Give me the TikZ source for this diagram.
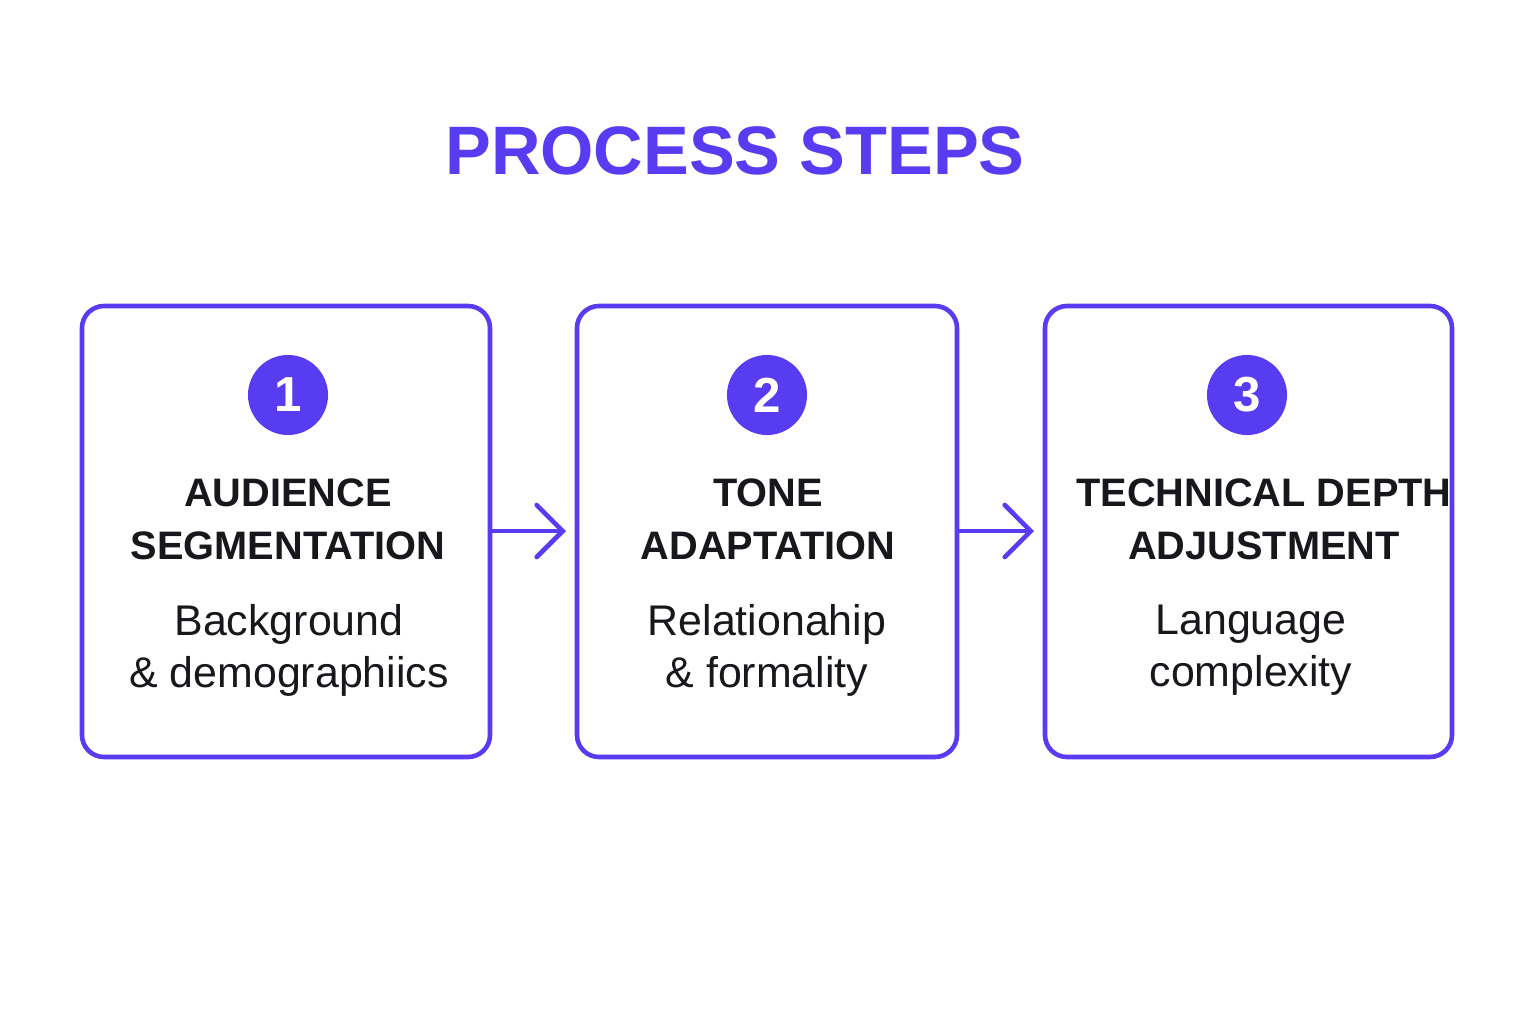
\documentclass[tikz,border=0pt]{standalone}
\usepackage{fontspec}
\setmainfont{Liberation Sans}
\usetikzlibrary{arrows.meta}
\definecolor{brand}{RGB}{88,60,242}
\definecolor{ink}{RGB}{24,24,28}
\tikzset{
  stepbox/.style={draw=brand, line width=0.046cm, rounded corners=0.22cm, fill=white},
  badge/.style={circle, fill=brand, minimum size=0.80cm, inner sep=0pt, text=white, font=\bfseries\fontsize{14}{16}\selectfont},
  head/.style={align=center, text=ink, font=\bfseries\fontsize{11.3}{15}\selectfont, inner sep=0pt},
  body/.style={align=center, text=ink, font=\fontsize{12.2}{14.8}\selectfont, inner sep=0pt},
  arr/.style={draw=brand, line width=0.046cm, line cap=round, line join=round, -{Straight Barb[length=0.26cm,width=0.52cm,line cap=round]}}
}
\begin{document}
\begin{tikzpicture}[x=0.01cm,y=-0.01cm]
\useasboundingbox (0,0) rectangle (1536,1024);
\fill[white] (0,0) rectangle (1536,1024);
\node[text=brand, font=\bfseries\fontsize{19.5}{22}\selectfont, inner sep=0pt] (title) at (735,151) {PROCESS STEPS};

\draw[stepbox] (82,306) rectangle (490,757);
\draw[stepbox] (577,306) rectangle (957,757);
\draw[stepbox] (1045,306) rectangle (1452,757);
\coordinate (b1e) at (490,531);
\coordinate (b2w) at (577,531);
\coordinate (b2e) at (957,531);
\coordinate (b3w) at (1045,531);

\node[badge] (n1) at (288,395) {1};
\node[badge] (n2) at (767,395) {2};
\node[badge] (n3) at (1247,395) {3};

\node[head] (h1) at (288,519) {AUDIENCE\\SEGMENTATION};
\node[head] (h2) at (768,519) {TONE\\ADAPTATION};
\node[head] (h3) at (1264,519) {TECHNICAL DEPTH\\ADJUSTMENT};

\node[body] (t1) at (289,650) {Background\\\& demographiics};
\node[body] (t2) at (767,650) {Relationahip\\\& formality};
\node[body] (t3) at (1251,650) {Language\\complexity};

\draw[arr, shorten >=0.11cm] (b1e) -- (b2w);
\draw[arr, shorten >=0.11cm] (b2e) -- (b3w);
\end{tikzpicture}
\end{document}
